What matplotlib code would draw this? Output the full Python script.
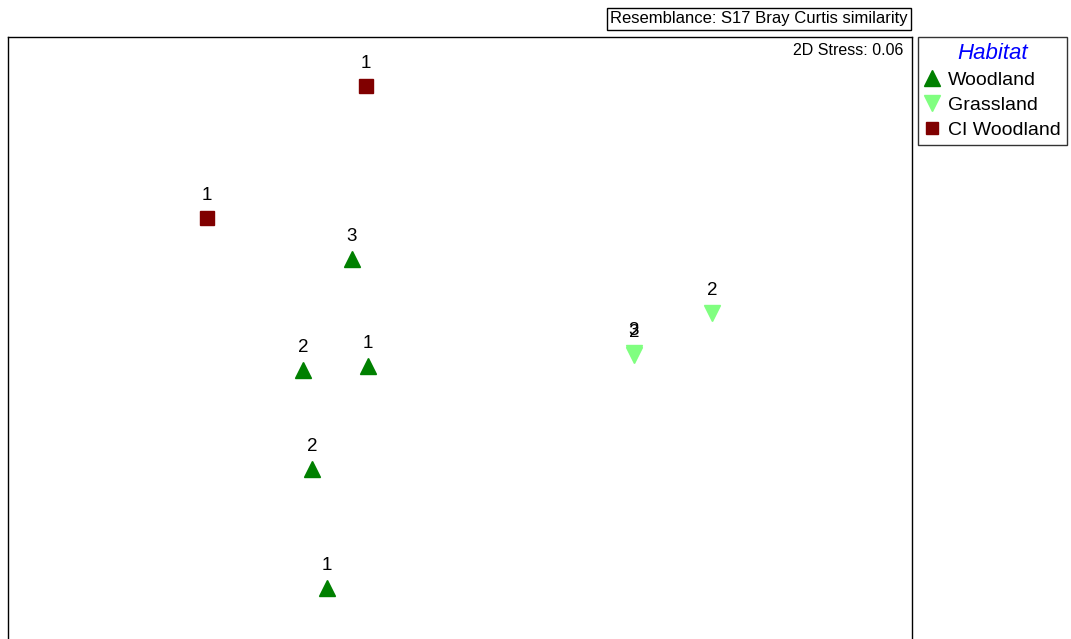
import matplotlib
matplotlib.use("Agg")
import matplotlib.pyplot as plt
from matplotlib.lines import Line2D

plt.rcParams['font.family'] = ['Liberation Sans', 'DejaVu Sans']

# nMDS ordination coordinates per habitat group
woodland_x = [-0.54, -0.785, -0.46, -0.74, -0.665]
woodland_y = [0.505, -0.05, -0.03, -0.545, -1.14]
woodland_lbl = ["3", "2", "1", "2", "1"]

grassland_x = [1.26, 0.87, 0.87]
grassland_y = [0.235, 0.035, 0.025]
grassland_lbl = ["2", "3", "2"]

ci_x = [-0.47, -1.265]
ci_y = [1.37, 0.71]
ci_lbl = ["1", "1"]

groups = ["Woodland", "Grassland", "CI Woodland"]
colors = ["#008000", "#80FF80", "#800000"]
markers = ["^", "v", "s"]
sizes = [11.5, 11.5, 9.5]

W, H = 1071, 639
fig = plt.figure(figsize=(W / 100, H / 100), dpi=100)
ax = fig.add_axes([8 / W, -21 / H, 904 / W, (639 - 37 + 21) / H])
ax.set_xlim(-2.26, 2.26)
ax.set_ylim(-1.5, 1.615)
ax.set_xticks([])
ax.set_yticks([])
for s in ax.spines.values():
    s.set_linewidth(1.0)
    s.set_color("black")

data = [(woodland_x, woodland_y, woodland_lbl),
        (grassland_x, grassland_y, grassland_lbl),
        (ci_x, ci_y, ci_lbl)]

handles = []
for (xs, ys, lbls), name, c, m, ms in zip(data, groups, colors, markers, sizes):
    ax.plot(xs, ys, linestyle="none", marker=m, markersize=ms,
            markerfacecolor=c, markeredgecolor=c, clip_on=False)
    for x, y, t in zip(xs, ys, lbls):
        ax.annotate(t, (x, y), xytext=(0, 10), textcoords="offset points",
                    ha="center", va="bottom", fontsize=13.5, color="black")
    handles.append(Line2D([], [], linestyle="none", marker=m, markersize=ms * 0.95,
                          markerfacecolor=c, markeredgecolor=c, label=name))

ax.text(0.99, 0.978, "2D Stress: 0.06", transform=ax.transAxes,
        ha="right", va="center", fontsize=11.5)

leg = fig.legend(handles=handles, loc="upper left",
                 bbox_to_anchor=(918 / W, 1 - 37 / H), bbox_transform=fig.transFigure,
                 frameon=True, fancybox=False, fontsize=14, title="Habitat",
                 handlelength=0.8, handletextpad=0.45, borderpad=0.3,
                 labelspacing=0.38, borderaxespad=0)
leg.get_frame().set_edgecolor("black")
leg.get_frame().set_linewidth(1.0)
leg.get_title().set_color("#0000FF")
leg.get_title().set_fontstyle("italic")
leg.get_title().set_fontsize(16)

fig.text(759 / W, 1 - 19 / H, "Resemblance: S17 Bray Curtis similarity",
         ha="center", va="center", fontsize=12,
         bbox=dict(boxstyle="square,pad=0.2", facecolor="white",
                   edgecolor="black", linewidth=1.0))

fig.savefig("out.png", dpi=100)
